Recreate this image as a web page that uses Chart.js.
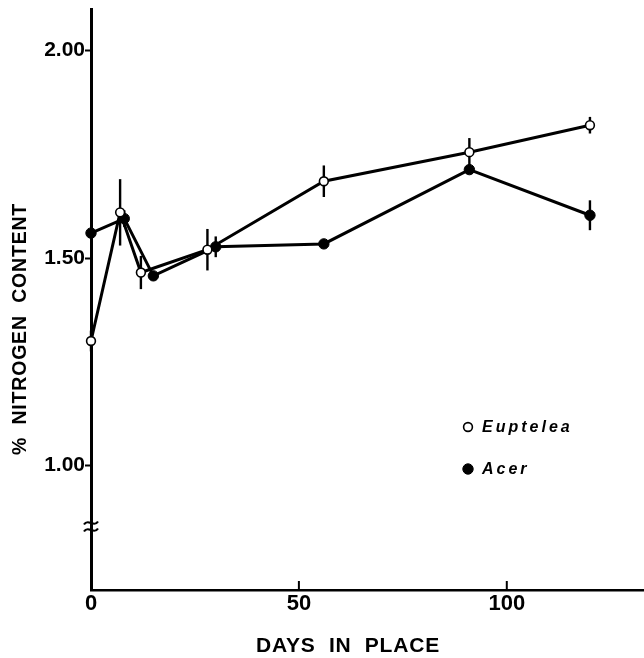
<!DOCTYPE html>
<html><head><meta charset="utf-8">
<style>html,body{margin:0;padding:0;background:#fff;} #wrap{width:644px;height:658px;}</style>
<script src="https://cdn.jsdelivr.net/npm/chart.js@4.4.1/dist/chart.umd.min.js"></script>
</head><body><div id="wrap"><canvas id="c" width="644" height="658"></canvas></div>
<script>
// ---- data ----
const eupteleaDays = [0, 7, 12, 28, 56, 91, 120];
const eupteleaN    = [1.30, 1.61, 1.465, 1.52, 1.685, 1.755, 1.82];
const eupteleaErr  = [0.025, 0.08, 0.04, 0.05, 0.038, 0.034, 0.02];
const acerDays = [0, 8, 15, 30, 56, 91, 120];
const acerN    = [1.56, 1.595, 1.457, 1.527, 1.534, 1.713, 1.603];
const acerErr  = [0.01, 0.02, 0.01, 0.025, 0.005, 0.01, 0.036];
const xTickValues = [0, 50, 100];
const yTickValues = [1.00, 1.50, 2.00];
const xTitle = 'DAYS  IN  PLACE';
const yTitle = '%  NITROGEN  CONTENT';
const breakValue = 0.853;

const FONT = "'Liberation Sans', Arial, Helvetica, sans-serif";

const errorBars = {
  id: 'errorBars',
  beforeDatasetsDraw(chart) {
    const {ctx, scales: {x, y}} = chart;
    ctx.save();
    ctx.strokeStyle = '#000';
    ctx.lineWidth = 2.4;
    chart.data.datasets.forEach(ds => {
      ds.data.forEach((p, i) => {
        const e = ds.errors[i];
        const px = x.getPixelForValue(p.x);
        ctx.beginPath();
        ctx.moveTo(px, y.getPixelForValue(p.y + e));
        ctx.lineTo(px, y.getPixelForValue(p.y - e));
        ctx.stroke();
      });
    });
    ctx.restore();
  }
};

const decorations = {
  id: 'decorations',
  afterDraw(chart) {
    const {ctx, scales: {x, y}, chartArea} = chart;
    ctx.save();
    ctx.strokeStyle = '#000';
    ctx.fillStyle = '#000';
    // inward x ticks
    ctx.lineWidth = 2;
    xTickValues.forEach(v => {
      if (v === x.min) return;
      const px = x.getPixelForValue(v);
      ctx.beginPath();
      ctx.moveTo(px, chartArea.bottom);
      ctx.lineTo(px, chartArea.bottom - 9);
      ctx.stroke();
    });
    // axis break mark
    const by = y.getPixelForValue(breakValue);
    const bx = chartArea.left;
    ctx.lineWidth = 2.2;
    [-3.5, 3.5].forEach(dy => {
      ctx.beginPath();
      ctx.moveTo(bx - 7, by + dy + 1.5);
      ctx.bezierCurveTo(bx - 3, by + dy - 5, bx + 3, by + dy + 5, bx + 7, by + dy - 1.5);
      ctx.stroke();
    });
    // axis titles
    ctx.letterSpacing = '0.8px';
    ctx.textAlign = 'center';
    ctx.textBaseline = 'middle';
    ctx.font = 'bold 21px ' + FONT;
    ctx.fillText(xTitle, 348, 646);
    ctx.save();
    ctx.translate(20.5, 329);
    ctx.rotate(-Math.PI / 2);
    ctx.font = 'bold 19.5px ' + FONT;
    ctx.fillText(yTitle, 0, 0);
    ctx.restore();
    // legend
    ctx.letterSpacing = '3px';
    ctx.textAlign = 'left';
    ctx.font = 'italic bold 16px ' + FONT;
    const items = chart.data.datasets;
    const legY = [427, 469];
    items.forEach((ds, i) => {
      const cy = legY[i];
      ctx.beginPath();
      ctx.arc(468, cy, ds.pointRadius, 0, Math.PI * 2);
      ctx.fillStyle = ds.pointBackgroundColor;
      ctx.fill();
      ctx.lineWidth = ds.pointBorderWidth;
      ctx.strokeStyle = '#000';
      ctx.stroke();
      ctx.fillStyle = '#000';
      ctx.fillText(ds.label, 482, cy + 1);
    });
    ctx.restore();
  }
};

new Chart(document.getElementById('c'), {
  type: 'line',
  data: {
    datasets: [
      {
        label: 'Euptelea',
        data: eupteleaDays.map((d, i) => ({x: d, y: eupteleaN[i]})),
        errors: eupteleaErr,
        borderColor: '#000', borderWidth: 3,
        pointRadius: 4.4, pointBorderWidth: 1.6,
        pointBackgroundColor: '#fff', pointBorderColor: '#000',
        tension: 0, clip: false
      },
      {
        label: 'Acer',
        data: acerDays.map((d, i) => ({x: d, y: acerN[i]})),
        errors: acerErr,
        borderColor: '#000', borderWidth: 3,
        pointRadius: 5.2, pointBorderWidth: 1,
        pointBackgroundColor: '#000', pointBorderColor: '#000',
        tension: 0, clip: false
      }
    ]
  },
  options: {
    responsive: false,
    animation: false,
    events: [],
    layout: {autoPadding: false, padding: {top: 9, right: 0, bottom: 0, left: 0}},
    plugins: {legend: {display: false}, tooltip: {enabled: false}},
    scales: {
      x: {
        type: 'linear', min: 0, max: 133,
        afterFit: s => { s.height = 68; s.paddingLeft = 0; s.paddingRight = 0; },
        afterBuildTicks: s => { s.ticks = xTickValues.map(v => ({value: v})); },
        border: {display: true, color: '#000', width: 2.5},
        grid: {display: true, drawOnChartArea: false, drawTicks: false},
        ticks: {color: '#000', padding: 1, maxRotation: 0, autoSkip: false,
          font: {family: FONT, size: 22, weight: 'bold'},
          callback: v => String(v)}
      },
      y: {
        type: 'linear', min: 0.70, max: 2.10,
        afterFit: s => { s.width = 91; s.paddingTop = 0; s.paddingBottom = 0; },
        afterBuildTicks: s => { s.ticks = yTickValues.map(v => ({value: v})); },
        border: {display: true, color: '#000', width: 3},
        grid: {display: true, drawOnChartArea: false, drawTicks: true, tickLength: 6, tickWidth: 2, tickColor: '#000'},
        ticks: {color: '#000', padding: 0, autoSkip: false,
          font: {family: FONT, size: 21, weight: 'bold'},
          callback: v => Number(v).toFixed(2)}
      }
    }
  },
  plugins: [errorBars, decorations]
});
</script>
</body></html>
